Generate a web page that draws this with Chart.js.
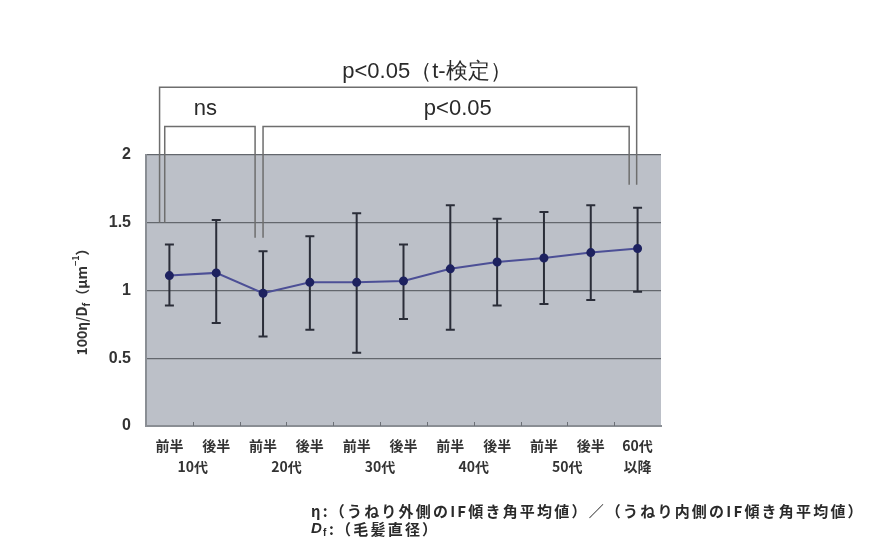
<!DOCTYPE html>
<html>
<head>
<meta charset="utf-8">
<script src="https://cdn.jsdelivr.net/npm/chart.js@4.4.1/dist/chart.umd.min.js"></script>
<style>
  html, body { margin: 0; padding: 0; background: #fff; }
  #wrap { width: 876px; height: 543px; }
</style>
</head>
<body>
<div id="wrap"><canvas id="chart"></canvas></div>
<script>
// values
var halfLabels = ['前半', '後半', '前半', '後半', '前半', '後半', '前半', '後半', '前半', '後半', '60代'];
var ageGroups  = ['10代', '20代', '30代', '40代', '50代', '以降'];
var groupAt    = [0.5, 2.5, 4.5, 6.5, 8.5, 10];
var means  = [1.11, 1.13, 0.98, 1.06, 1.06, 1.07, 1.16, 1.21, 1.24, 1.28, 1.31];
var upper  = [1.34, 1.52, 1.29, 1.40, 1.57, 1.34, 1.63, 1.53, 1.58, 1.63, 1.61];
var lower  = [0.89, 0.76, 0.66, 0.71, 0.54, 0.79, 0.71, 0.89, 0.90, 0.93, 0.99];
var yTicks = [0, 0.5, 1, 1.5, 2];

// significance brackets, in category index / axis value units
var brackets = [
  { text: 'p<0.05（t-検定）', x0: -0.21, x1: 9.98, y: 2.5, leg0: 1.5, leg1: 1.78, tx: 5.5, ty: 2.61 },
  { text: 'ns', x0: -0.1, x1: 1.83, y: 2.21, leg0: 1.5, leg1: 1.39, tx: 0.77, ty: 2.34 },
  { text: 'p<0.05', x0: 2.0, x1: 9.82, y: 2.21, leg0: 1.39, leg1: 1.78, tx: 6.16, ty: 2.34 }
];

var notes = [
  'η:（うねり外側のIF傾き角平均値）／（うねり内側のIF傾き角平均値）',
  ':（毛髪直径）'
];

var jp = '"Noto Sans CJK JP", sans-serif';

var decor = {
  id: 'decor',
  beforeDraw: function (chart) {
    var a = chart.chartArea, ctx = chart.ctx;
    ctx.save();
    ctx.fillStyle = '#bcc0c8';
    ctx.fillRect(a.left, a.top, a.right - a.left, a.bottom - a.top);
    ctx.restore();
  },
  beforeDatasetsDraw: function (chart) {
    var ctx = chart.ctx, x = chart.scales.x, y = chart.scales.y, a = chart.chartArea;
    ctx.save();
    // small inner ticks between categories
    ctx.strokeStyle = '#6c7076';
    ctx.lineWidth = 1;
    for (var k = 0; k < halfLabels.length - 1; k++) {
      var tx = Math.round(x.getPixelForValue(k + 0.5)) + 0.5;
      ctx.beginPath(); ctx.moveTo(tx, a.bottom); ctx.lineTo(tx, a.bottom - 4); ctx.stroke();
    }
    // error bars
    ctx.strokeStyle = '#2a2d38';
    ctx.lineWidth = 2;
    for (var i = 0; i < means.length; i++) {
      var px = x.getPixelForValue(i);
      var yt = y.getPixelForValue(upper[i]), yb = y.getPixelForValue(lower[i]);
      ctx.beginPath();
      ctx.moveTo(px, yt); ctx.lineTo(px, yb);
      ctx.moveTo(px - 4.5, yt); ctx.lineTo(px + 4.5, yt);
      ctx.moveTo(px - 4.5, yb); ctx.lineTo(px + 4.5, yb);
      ctx.stroke();
    }
    ctx.restore();
  },
  afterDraw: function (chart) {
    var ctx = chart.ctx, x = chart.scales.x, y = chart.scales.y, a = chart.chartArea;
    ctx.save();
    // brackets
    ctx.strokeStyle = '#6e6e6e';
    ctx.lineWidth = 1.5;
    ctx.fillStyle = '#2a2a2a';
    ctx.font = '22px "Liberation Sans", Arial, sans-serif';
    ctx.textAlign = 'center';
    ctx.textBaseline = 'middle';
    brackets.forEach(function (b) {
      var x0 = x.getPixelForValue(b.x0), x1 = x.getPixelForValue(b.x1), yy = y.getPixelForValue(b.y);
      ctx.beginPath();
      ctx.moveTo(x0, y.getPixelForValue(b.leg0));
      ctx.lineTo(x0, yy);
      ctx.lineTo(x1, yy);
      ctx.lineTo(x1, y.getPixelForValue(b.leg1));
      ctx.stroke();
      ctx.fillText(b.text, x.getPixelForValue(b.tx), y.getPixelForValue(b.ty));
    });

    // second line of x labels
    ctx.font = 'bold 14px ' + jp;
    ctx.fillStyle = '#333';
    ageGroups.forEach(function (g, i) {
      ctx.fillText(g, x.getPixelForValue(groupAt[i]), a.bottom + 41);
    });

    // y axis title, rotated, with sub/superscripts
    ctx.translate(82, (a.top + a.bottom) / 2 + 8);
    ctx.rotate(-Math.PI / 2);
    var parts = [
      ['100η/D', 'bold 14px ' + jp, 0],
      ['f', 'bold 10px ' + jp, 4],
      ['（μm', 'bold 14px ' + jp, 0],
      ['−1', 'bold 9px ' + jp, -6],
      ['）', 'bold 14px ' + jp, 0]
    ];
    var total = 0;
    parts.forEach(function (p) { ctx.font = p[1]; total += ctx.measureText(p[0]).width; });
    var cx = -total / 2;
    ctx.textAlign = 'left';
    parts.forEach(function (p) {
      ctx.font = p[1];
      ctx.fillText(p[0], cx, p[2]);
      cx += ctx.measureText(p[0]).width;
    });
    ctx.restore();

    // footnotes
    ctx.save();
    ctx.fillStyle = '#2a2a2a';
    ctx.textBaseline = 'middle';
    ctx.font = 'bold 15px ' + jp;
    ctx.letterSpacing = '2.2px';
    ctx.fillText(notes[0], 311, 511);
    ctx.font = 'italic bold 15px "Liberation Sans", sans-serif';
    ctx.letterSpacing = '0px';
    ctx.fillText('D', 311, 529);
    ctx.font = 'bold 10px "Liberation Sans", sans-serif';
    ctx.fillText('f', 323, 533);
    ctx.font = 'bold 15px ' + jp;
    ctx.letterSpacing = '2.2px';
    ctx.fillText(notes[1], 329, 529);
    ctx.restore();
  }
};

new Chart(document.getElementById('chart'), {
  type: 'line',
  data: {
    labels: halfLabels.map(function (l) { return [l, '']; }),
    datasets: [{
      data: means,
      borderColor: '#4c4f96',
      borderWidth: 2,
      backgroundColor: '#1e2260',
      pointBackgroundColor: '#1e2260',
      pointBorderColor: '#1e2260',
      pointRadius: 3.5,
      fill: false,
      tension: 0
    }]
  },
  options: {
    responsive: true,
    maintainAspectRatio: false,
    animation: false,
    layout: { padding: { top: 155, right: 215, left: 0, bottom: 0 } },
    plugins: { legend: { display: false }, tooltip: { enabled: false } },
    scales: {
      x: {
        offset: true,
        grid: { display: false, drawTicks: false },
        border: { display: true, color: '#8a8e94', width: 2 },
        ticks: {
          color: '#333',
          padding: 9,
          maxRotation: 0,
          autoSkip: false,
          font: { family: '"Noto Sans CJK JP", sans-serif', size: 14, weight: 'bold', lineHeight: 1.5 }
        },
        afterFit: function (s) { s.height = 117; }
      },
      y: {
        min: 0,
        max: 2,
        afterBuildTicks: function (s) { s.ticks = yTicks.map(function (v) { return { value: v }; }); },
        grid: { color: '#63676d', lineWidth: 1.2, drawTicks: false },
        border: { display: true, color: '#8a8e94', width: 2 },
        ticks: {
          color: '#333',
          padding: 15,
          font: { family: '"Liberation Sans", Arial, sans-serif', size: 16, weight: 'bold' },
          callback: function (v) { return String(v); }
        },
        afterFit: function (s) { s.width = 146; }
      }
    }
  },
  plugins: [decor]
});
</script>
</body>
</html>
